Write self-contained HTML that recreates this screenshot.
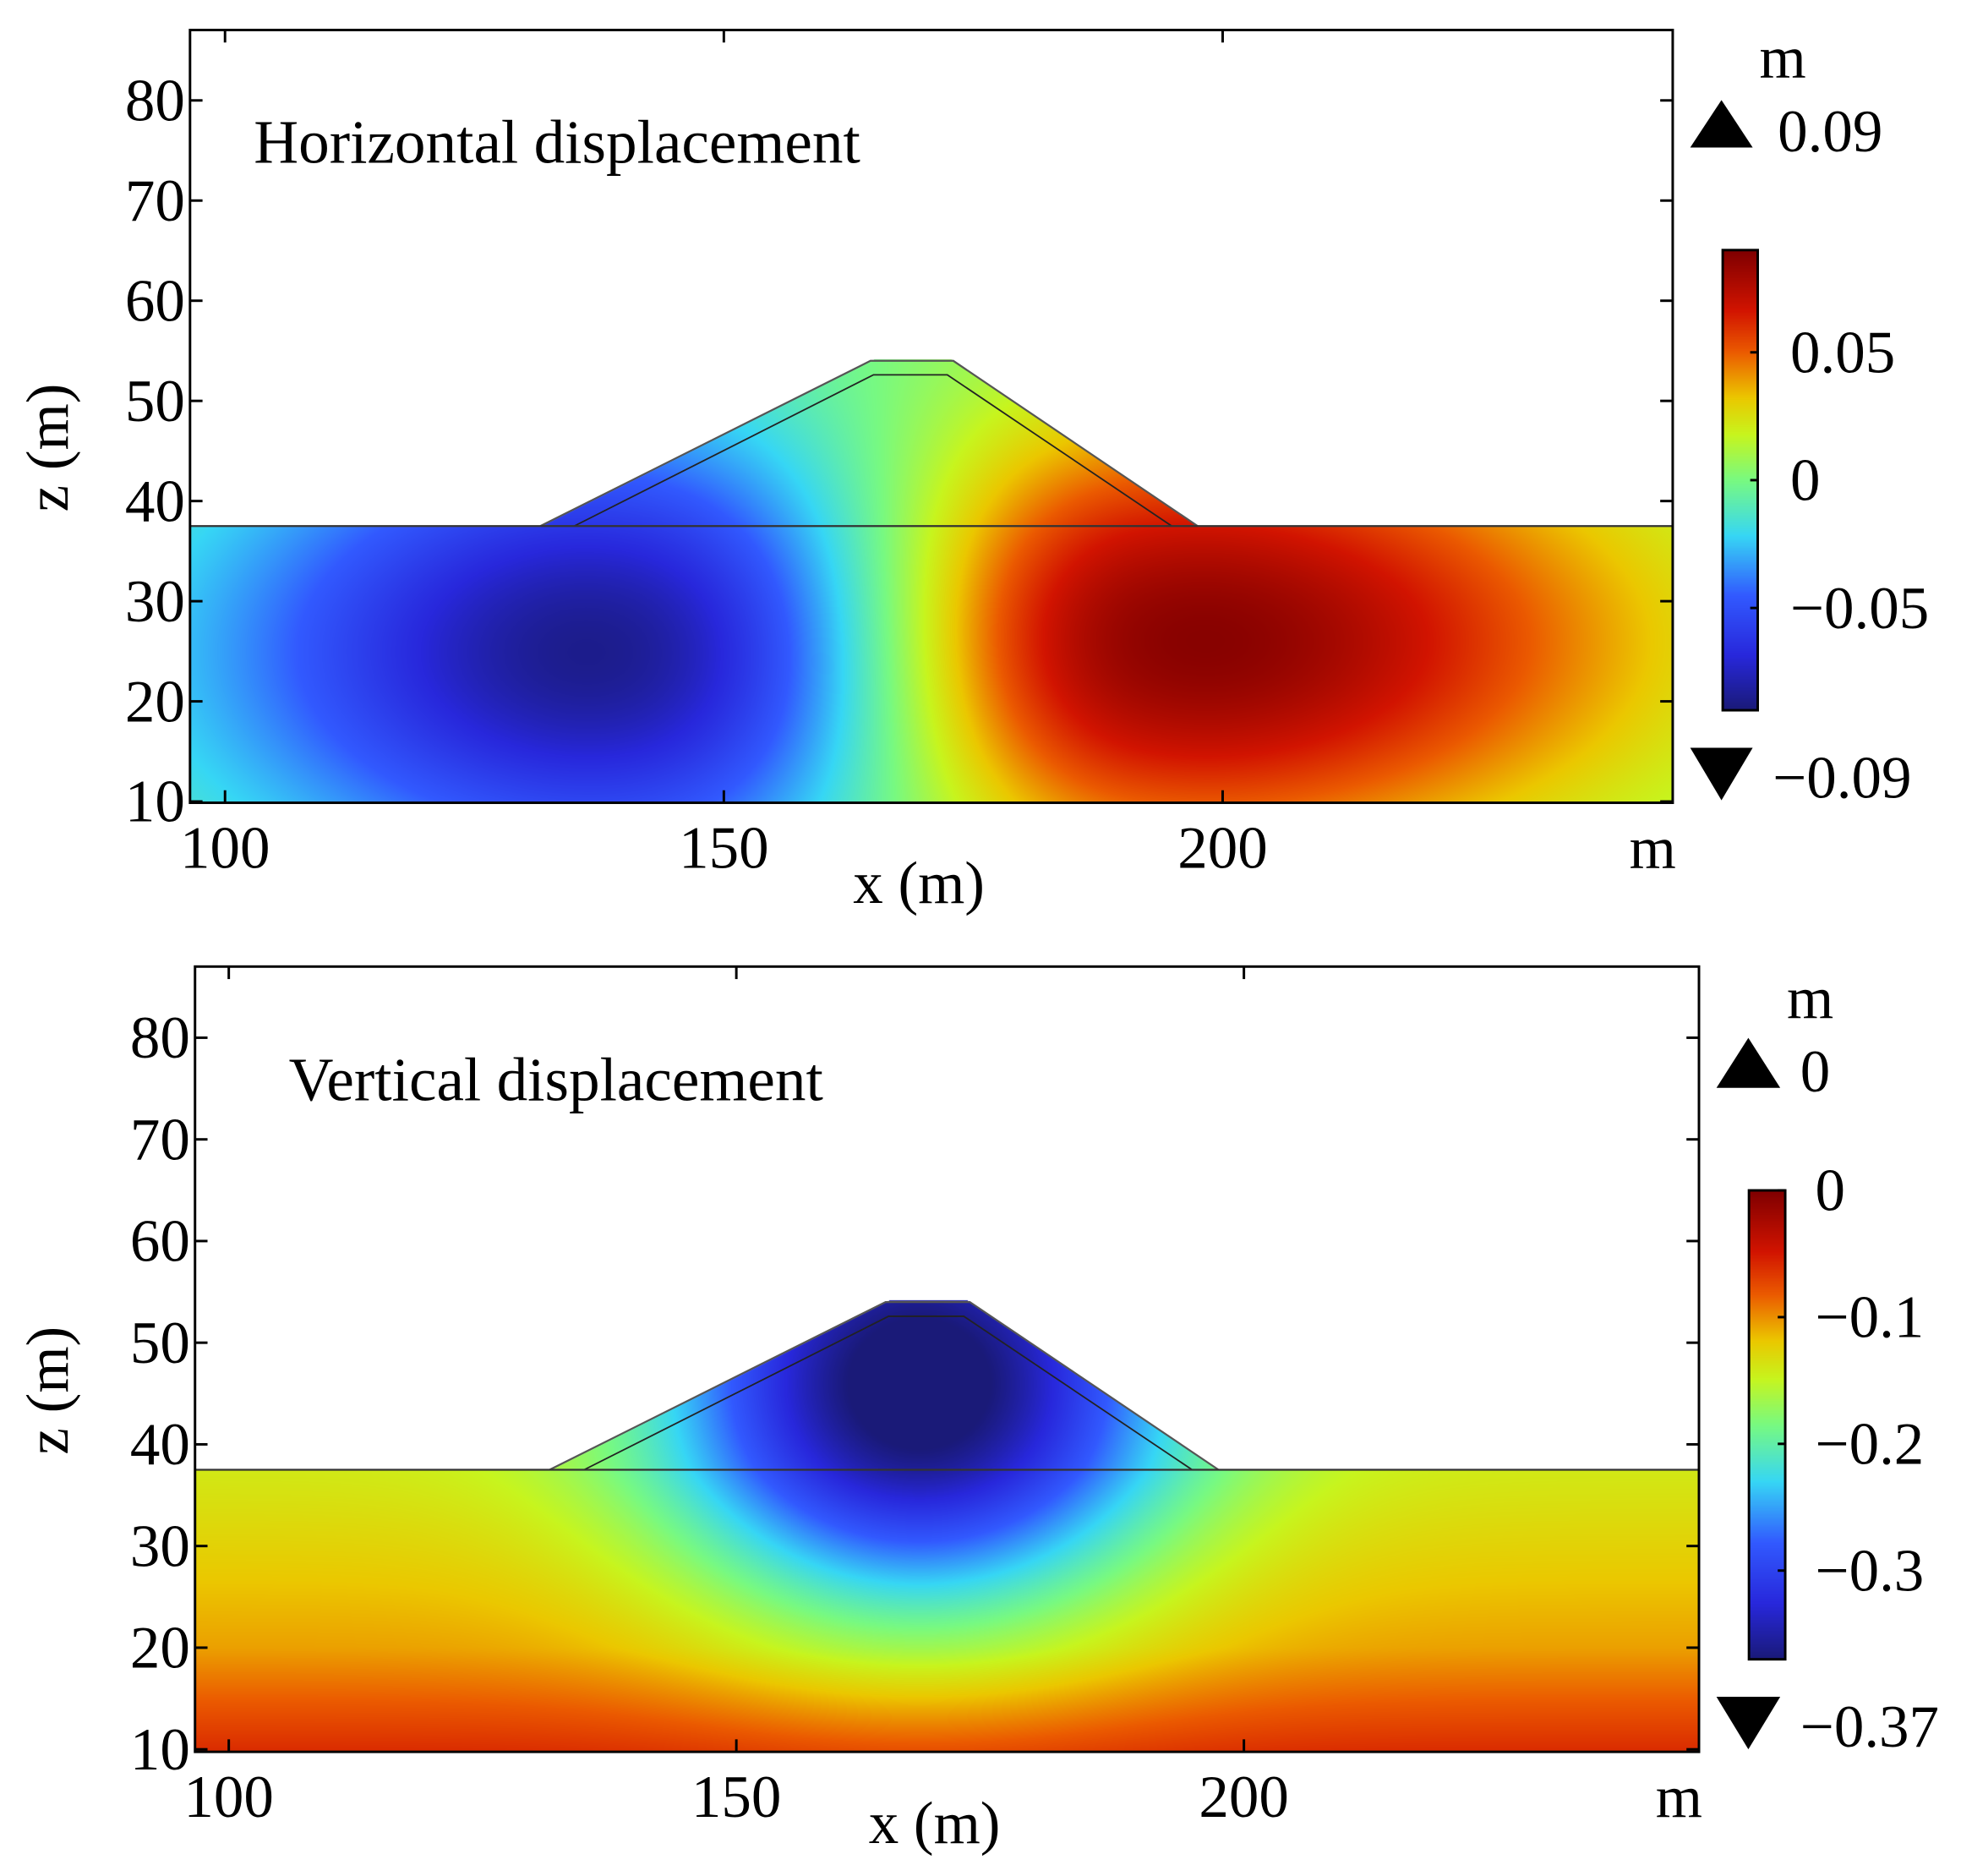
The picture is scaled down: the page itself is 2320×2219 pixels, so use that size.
<!DOCTYPE html>
<html><head><meta charset="utf-8"><style>
html,body{margin:0;padding:0;background:#fff;}
#wrap{position:relative;width:2320px;height:2219px;overflow:hidden;}
canvas,svg{position:absolute;left:0;top:0;}
text{font-family:"Liberation Serif",serif;fill:#000;}
</style></head><body>
<div id="wrap">
<canvas id="cv" width="2320" height="2219"></canvas>
<svg id="sv" width="2320" height="2219" viewBox="0 0 1568.6 1500.3" preserveAspectRatio="none"></svg>
</div>
<script>
// ---- data ----
const xTicks = [100, 150, 200];
const zTicks = [10, 20, 30, 40, 50, 60, 70, 80];
const damOuter = [[131.6, 37.5], [164.7, 54], [173, 54], [197.5, 37.5]];
const damInner = [[135, 37.5], [165, 52.6], [172.4, 52.6], [194.9, 37.5]];
const groundZ = 37.5;
// horizontal field lobes: [xc, zc, amplitude, sigmaInner, sigmaOuter, sigmaZ]
const hLobeNeg = [141, 25, -0.092, 34, 40, 22];
const hLobePos = [191, 26, 0.095, 32, 50, 22];
// vertical field: bowl [xc, zc, amplitude, sigmaX, sigmaZ]; base values by depth
const vBowl = [168, 46, -0.25, 24, 22];
const vBaseZ = [10, 20, 37.5, 60];
const vBaseVal = [-0.06, -0.105, -0.14, -0.14];
const hBarTicks = [0.05, 0, -0.05];
const hBarLabels = ["0.05", "0", "\u22120.05"];
const vBarTicks = [0, -0.1, -0.2, -0.3];
const vBarLabels = ["0", "\u22120.1", "\u22120.2", "\u22120.3"];
const cmapPos = [0, 0.12, 0.25, 0.38, 0.5, 0.6, 0.68, 0.78, 0.87, 1];
const cmapCol = [[26,26,120],[40,40,220],[50,90,255],[55,215,245],[120,250,130],[200,245,30],[235,200,0],[235,90,0],[210,20,0],[128,0,0]];

const S = 2320 / 1568.6;
const FS = 48;
const plots = [
  {name:'horizontal', L:152, R:1338, T:24, B:642, px100:180, pxPerX:7.98, z10:641, pxPerZ:8.01,
   vmin:-0.09, vmax:0.09, title:'Horizontal displacement', tx:203, ty:130,
   bar:{x:1378, y:200, w:28, h:368}, barTicks:hBarTicks, barLabels:hBarLabels, barLx:1432,
   triUp:[1352,80,1402,118], triDn:[1352,598,1402,640], upLab:'0.09', dnLab:'\u22120.09', upLx:1422, dnLx:1418,
   mY:62, mX:1426, xLabY:722},
  {name:'vertical', L:156, R:1359, T:773, B:1401, px100:183, pxPerX:8.12, z10:1399, pxPerZ:8.13,
   vmin:-0.37, vmax:0, title:'Vertical displacement', tx:231, ty:880,
   bar:{x:1399, y:952, w:29, h:375}, barTicks:vBarTicks, barLabels:vBarLabels, barLx:1452,
   triUp:[1373,830,1424,870], triDn:[1373,1357,1424,1399], upLab:'0', dnLab:'\u22120.37', upLx:1440, dnLx:1440,
   mY:814, mX:1448, xLabY:1474}
];

function cmap(t){
  t=Math.max(0,Math.min(1,t));
  for(let i=1;i<cmapPos.length;i++){
    if(t<=cmapPos[i]){const f=(t-cmapPos[i-1])/(cmapPos[i]-cmapPos[i-1]);const a=cmapCol[i-1],b=cmapCol[i];
      return [a[0]+f*(b[0]-a[0])|0,a[1]+f*(b[1]-a[1])|0,a[2]+f*(b[2]-a[2])|0];}
  }
  return cmapCol[cmapCol.length-1];
}
function lobe(p,x,z){
  const inner = (p[2]<0) ? (x>p[0]) : (x<p[0]);
  const sx = inner ? p[3] : p[4];
  return p[2]*Math.exp(-Math.pow((x-p[0])/sx,2)-Math.pow((z-p[1])/p[5],2));
}
function hField(x,z){ return lobe(hLobeNeg,x,z)+lobe(hLobePos,x,z); }
function interp(xs,ys,v){
  if(v<=xs[0]) return ys[0];
  for(let i=1;i<xs.length;i++){ if(v<=xs[i]){const f=(v-xs[i-1])/(xs[i]-xs[i-1]);return ys[i-1]+f*(ys[i]-ys[i-1]);} }
  return ys[ys.length-1];
}
function vField(x,z){
  const b=vBowl;
  return interp(vBaseZ,vBaseVal,z)+b[2]*Math.exp(-Math.pow((x-b[0])/b[3],2)-Math.pow((z-b[1])/b[4],2));
}
plots[0].field=hField; plots[1].field=vField;

const cv=document.getElementById('cv'), ctx=cv.getContext('2d');
const sv=document.getElementById('sv'), NS='http://www.w3.org/2000/svg';
function el(tag,attrs,parent){const e=document.createElementNS(NS,tag);for(const k in attrs)e.setAttribute(k,attrs[k]);(parent||sv).appendChild(e);return e;}

plots.forEach(p=>{
  const X=x=>p.px100+(x-100)*p.pxPerX;
  const Z=z=>p.z10-(z-10)*p.pxPerZ;
  const Xi=px=>100+(px-p.px100)/p.pxPerX;
  const Zi=py=>10-(py-p.z10)/p.pxPerZ;
  const x0=Math.round(p.L*S), x1=Math.round(p.R*S), y0=Math.round(Z(damOuter[1][1])*S)-2, y1=Math.round(p.B*S);
  const img=ctx.createImageData(x1-x0,y1-y0);
  const gy=Z(groundZ);
  for(let j=0;j<y1-y0;j++){
    const py=(y0+j)/S, z=Zi(py);
    let xl=-1e9, xr=1e9;
    if(py<gy){
      const f=(z-groundZ)/(damOuter[1][1]-groundZ);
      xl=X(damOuter[0][0]+f*(damOuter[1][0]-damOuter[0][0]));
      xr=X(damOuter[3][0]+f*(damOuter[2][0]-damOuter[3][0]));
    }
    for(let i=0;i<x1-x0;i++){
      const px=(x0+i)/S;
      const k=(j*(x1-x0)+i)*4;
      if(px<xl||px>xr){img.data[k+3]=0;continue;}
      const v=p.field(Xi(px),z);
      const c=cmap((v-p.vmin)/(p.vmax-p.vmin));
      img.data[k]=c[0];img.data[k+1]=c[1];img.data[k+2]=c[2];img.data[k+3]=255;
    }
  }
  ctx.putImageData(img,x0,y0);
  const bx=Math.round(p.bar.x*S), by=Math.round(p.bar.y*S), bw=Math.round(p.bar.w*S), bh=Math.round(p.bar.h*S);
  for(let j=0;j<bh;j++){const c=cmap(1-j/bh);ctx.fillStyle=`rgb(${c[0]},${c[1]},${c[2]})`;ctx.fillRect(bx,by+j,bw,1);}

  const g=el('g',{});  
  const pts=a=>a.map(q=>X(q[0])+','+Z(q[1])).join(' ');
  const dO=el('polyline',{points:pts(damOuter),fill:'none',stroke:'#555',"stroke-width":1.5},g);
   
  const dI=el('polyline',{points:pts(damInner),fill:'none',stroke:'#222',"stroke-width":1.2},g);
   
  const gl=el('line',{x1:p.L,x2:p.R,y1:gy,y2:gy,stroke:'#333',"stroke-width":1.5},g);
   
  const fr=el('rect',{x:p.L,y:p.T,width:p.R-p.L,height:p.B-p.T,fill:'none',stroke:'#000',"stroke-width":2},g);
   
  xTicks.forEach((t,i)=>{
    const x=X(t);
    el('line',{x1:x,x2:x,y1:p.B,y2:p.B-10,stroke:'#000',"stroke-width":2},g);
    el('line',{x1:x,x2:x,y1:p.T,y2:p.T+10,stroke:'#000',"stroke-width":2},g);
    const tl=el('text',{x:x,y:p.B+52,"font-size":FS,"text-anchor":"middle"},g); tl.textContent=t;
     
  });
  const mx=el('text',{x:p.R-16,y:p.B+52,"font-size":FS,"text-anchor":"middle"},g); mx.textContent='m';
   
  zTicks.forEach(t=>{
    const y=Z(t);
    el('line',{x1:p.L,x2:p.L+10,y1:y,y2:y,stroke:'#000',"stroke-width":2},g);
    el('line',{x1:p.R,x2:p.R-10,y1:y,y2:y,stroke:'#000',"stroke-width":2},g);
    const tl=el('text',{x:p.L-4,y:y+16,"font-size":FS,"text-anchor":"end"},g); tl.textContent=t;
     
  });
  const xl2=el('text',{x:(p.L+p.R)/2-10,y:p.xLabY,"font-size":FS,"text-anchor":"middle"},g); xl2.textContent='x (m)';
   
  const cy=(p.T+p.B)/2+25;
  const yl=el('text',{x:54,y:cy,"font-size":FS,"text-anchor":"middle",transform:`rotate(-90 54 ${cy})`},g); yl.textContent='z (m)';
   
  const tt=el('text',{x:p.tx,y:p.ty,"font-size":49.5},g); tt.textContent=p.title;
   
  const br=el('rect',{x:p.bar.x,y:p.bar.y,width:p.bar.w,height:p.bar.h,fill:'none',stroke:'#000',"stroke-width":2},g);
   
  p.barTicks.forEach((t,i)=>{
    const y=p.bar.y+(p.vmax-t)/(p.vmax-p.vmin)*p.bar.h;
    el('line',{x1:p.bar.x+p.bar.w,x2:p.bar.x+p.bar.w-6,y1:y,y2:y,stroke:'#000',"stroke-width":2},g);
    const tl=el('text',{x:p.barLx,y:y+16,"font-size":FS},g); tl.textContent=p.barLabels[i];
     
  });
  const u=p.triUp, d=p.triDn;
  const tu=el('polygon',{points:`${u[0]},${u[3]} ${(u[0]+u[2])/2},${u[1]} ${u[2]},${u[3]}`,fill:'#000'},g);
   
  const td=el('polygon',{points:`${d[0]},${d[1]} ${d[2]},${d[1]} ${(d[0]+d[2])/2},${d[3]}`,fill:'#000'},g);
   
  const ul=el('text',{x:p.upLx,y:u[3]+3,"font-size":FS},g); ul.textContent=p.upLab;
   
  const dl=el('text',{x:p.dnLx,y:d[3]-2,"font-size":FS},g); dl.textContent=p.dnLab;
   
  const mm=el('text',{x:p.mX,y:p.mY,"font-size":FS,"text-anchor":"middle"},g); mm.textContent='m';
   
});
</script>
</body></html>
